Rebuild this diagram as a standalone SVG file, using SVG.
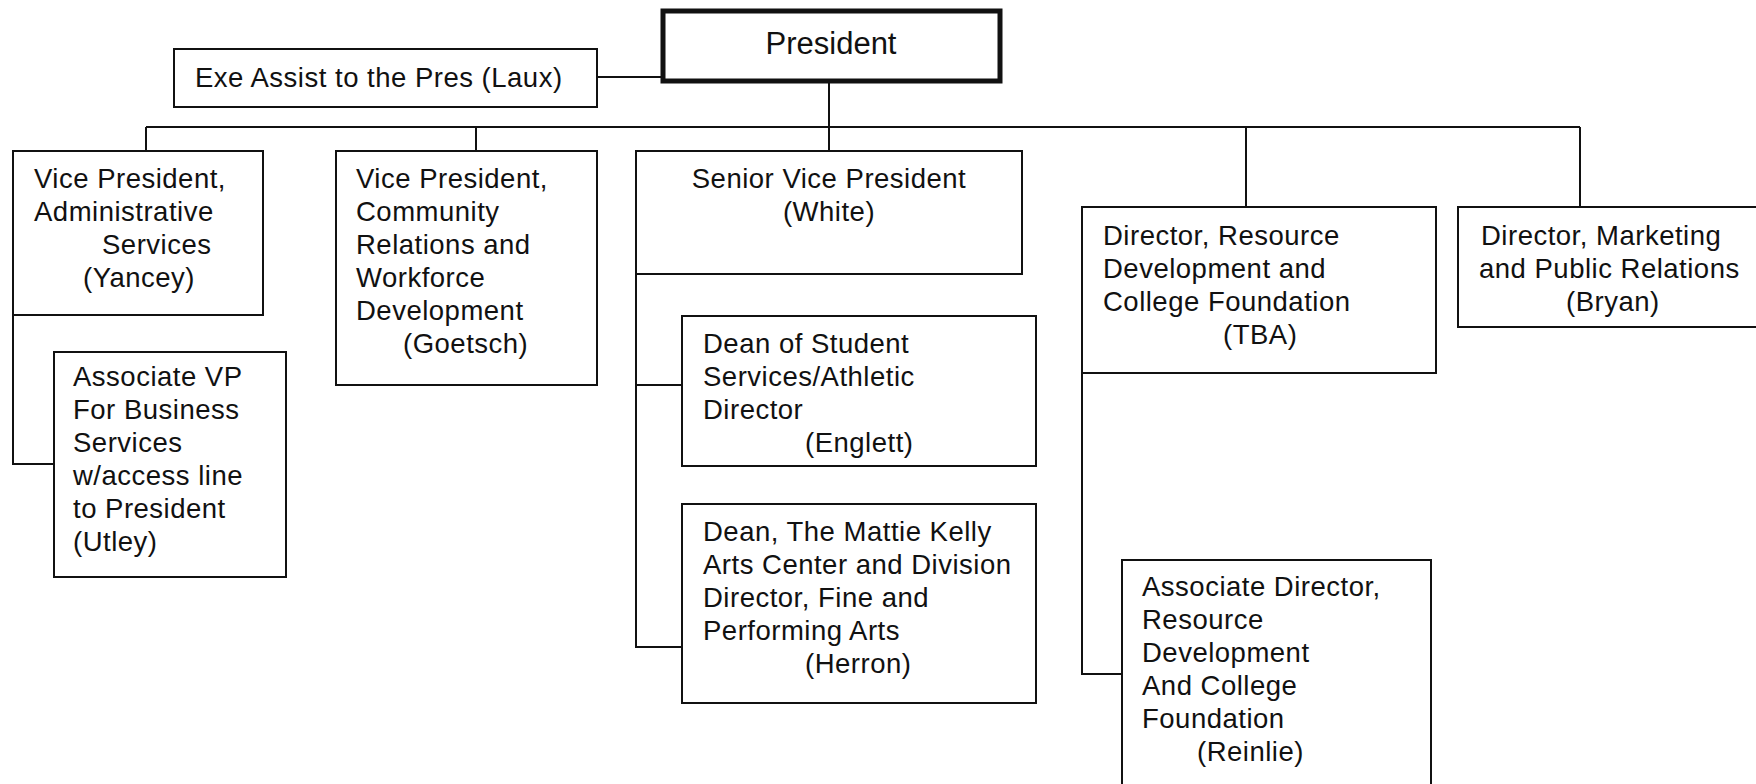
<svg xmlns="http://www.w3.org/2000/svg" width="1756" height="784" viewBox="0 0 1756 784">
<style>
.box{fill:#fff;stroke:#111;stroke-width:2}
.pres{fill:#fff;stroke:#111;stroke-width:5}
.t{font-family:"Liberation Sans",Arial,sans-serif;font-size:27.5px;fill:#111;letter-spacing:0.5px}
.tp{font-family:"Liberation Sans",Arial,sans-serif;font-size:31px;fill:#111;text-anchor:middle}
.ln{fill:none;stroke:#111;stroke-width:2}
</style>
<rect width="1756" height="784" fill="#fff"/>
<g id="connectors" class="ln">
<path d="M597 77H661"/>
<path d="M829 82V151"/>
<path d="M146 127H1580"/>
<path d="M146 127V151M476 127V151M1246 127V207M1580 127V207"/>
<path d="M13 315V464H54"/>
<path d="M636 274V647H682M636 385H682"/>
<path d="M1082 373V674H1122"/>
</g>
<g id="president"><rect class="pres" x="663" y="11" width="337" height="70"/><text class="tp" x="831" y="54">President</text></g>
<g id="exe"><rect class="box" x="174" y="49" width="423" height="58"/><text class="t" x="195" y="87">Exe Assist to the Pres (Laux)</text></g>
<g id="vp-admin"><rect class="box" x="13" y="151" width="250" height="164"/>
<text class="t"><tspan x="34" y="188">Vice President,</tspan><tspan x="34" y="221">Administrative</tspan><tspan x="102" y="254">Services</tspan><tspan x="83" y="287">(Yancey)</tspan></text></g>
<g id="assoc-vp"><rect class="box" x="54" y="352" width="232" height="225"/>
<text class="t"><tspan x="73" y="386">Associate VP</tspan><tspan x="73" y="419">For Business</tspan><tspan x="73" y="452">Services</tspan><tspan x="73" y="485">w/access line</tspan><tspan x="73" y="518">to President</tspan><tspan x="73" y="551">(Utley)</tspan></text></g>
<g id="vp-comm"><rect class="box" x="336" y="151" width="261" height="234"/>
<text class="t"><tspan x="356" y="188">Vice President,</tspan><tspan x="356" y="221">Community</tspan><tspan x="356" y="254">Relations and</tspan><tspan x="356" y="287">Workforce</tspan><tspan x="356" y="320">Development</tspan><tspan x="403" y="353">(Goetsch)</tspan></text></g>
<g id="svp"><rect class="box" x="636" y="151" width="386" height="123"/>
<text class="t" text-anchor="middle"><tspan x="829" y="188">Senior Vice President</tspan><tspan x="829" y="221">(White)</tspan></text></g>
<g id="dean-student"><rect class="box" x="682" y="316" width="354" height="150"/>
<text class="t"><tspan x="703" y="353">Dean of Student</tspan><tspan x="703" y="386">Services/Athletic</tspan><tspan x="703" y="419">Director</tspan><tspan x="805" y="452">(Englett)</tspan></text></g>
<g id="dean-arts"><rect class="box" x="682" y="504" width="354" height="199"/>
<text class="t"><tspan x="703" y="541">Dean, The Mattie Kelly</tspan><tspan x="703" y="574">Arts Center and Division</tspan><tspan x="703" y="607">Director, Fine and</tspan><tspan x="703" y="640">Performing Arts</tspan><tspan x="805" y="673">(Herron)</tspan></text></g>
<g id="dir-resource"><rect class="box" x="1082" y="207" width="354" height="166"/>
<text class="t"><tspan x="1103" y="245">Director, Resource</tspan><tspan x="1103" y="278">Development and</tspan><tspan x="1103" y="311">College Foundation</tspan><tspan x="1223" y="344">(TBA)</tspan></text></g>
<g id="assoc-dir"><rect class="box" x="1122" y="560" width="309" height="240"/>
<text class="t"><tspan x="1142" y="596">Associate Director,</tspan><tspan x="1142" y="629">Resource</tspan><tspan x="1142" y="662">Development</tspan><tspan x="1142" y="695">And College</tspan><tspan x="1142" y="728">Foundation</tspan><tspan x="1197" y="761">(Reinlie)</tspan></text></g>
<g id="dir-marketing"><rect class="box" x="1458" y="207" width="310" height="120"/>
<text class="t"><tspan x="1481" y="245">Director, Marketing</tspan><tspan x="1479" y="278">and Public Relations</tspan><tspan x="1566" y="311">(Bryan)</tspan></text></g>
</svg>
